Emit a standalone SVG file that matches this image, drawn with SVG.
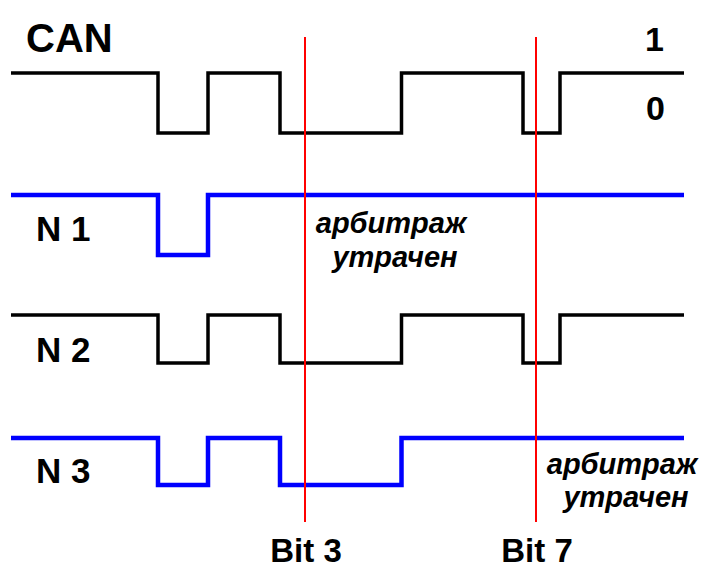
<svg xmlns="http://www.w3.org/2000/svg" width="702" height="570" viewBox="0 0 702 570">
<style>
.w{fill:none;stroke-linejoin:miter;stroke-linecap:butt}
.k{stroke:#000;stroke-width:3.5}
.b{stroke:#0000ff;stroke-width:4.5}
.r{stroke:#ff0000;stroke-width:2}
.t{font-family:"Liberation Sans",Arial,sans-serif;font-weight:bold;fill:#000}
.i{font-family:"Liberation Sans",Arial,sans-serif;font-weight:bold;font-style:italic;fill:#000;font-size:29px;text-anchor:middle}
</style>
<rect width="702" height="570" fill="#fff"/>
<g id="can">
<path class="w k" d="M11 73H158V133H208V73H280V133H401.5V73H523V133H560V73H684"/>
<text class="t" x="26" y="52" font-size="40">CAN</text>
<text class="t" x="664" y="51" font-size="34" text-anchor="end">1</text>
<text class="t" x="665" y="120" font-size="34" text-anchor="end">0</text>
</g>
<g id="n1">
<path class="w b" d="M11 195H158V255H208V195H684"/>
<text class="t" x="36" y="241" font-size="35">N 1</text>
</g>
<g id="n2">
<path class="w k" d="M11 315H158V363H208V315H280V363H401.5V315H523V363H560V315H684"/>
<text class="t" x="36" y="362" font-size="35">N 2</text>
</g>
<g id="n3">
<path class="w b" d="M11 438H158V485H208V438H280V485H401.5V438H684"/>
<text class="t" x="36" y="483" font-size="35">N 3</text>
</g>
<g id="markers">
<path class="w r" d="M305 37V522M536 37V522"/>
<text class="t" x="306" y="562" font-size="33" text-anchor="middle">Bit 3</text>
<text class="t" x="537" y="562" font-size="33" text-anchor="middle">Bit 7</text>
</g>
<g id="lost1">
<text class="i" x="391" y="233">арбитраж</text>
<text class="i" x="395" y="267">утрачен</text>
</g>
<g id="lost2">
<text class="i" x="622" y="474">арбитраж</text>
<text class="i" x="626" y="507">утрачен</text>
</g>
</svg>
